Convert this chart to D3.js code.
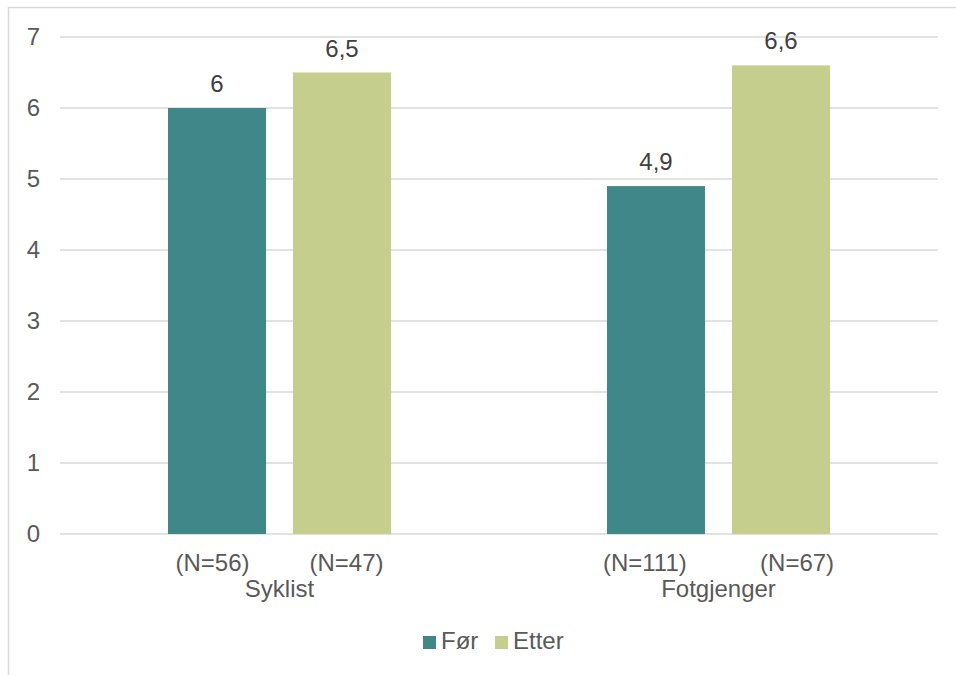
<!DOCTYPE html>
<html>
<head>
<meta charset="utf-8">
<script src="https://cdn.jsdelivr.net/npm/d3@7"></script>
<style>
  html, body { margin: 0; padding: 0; background: #fff; }
  svg text { font-family: "Liberation Sans", Arial, sans-serif; fill: #595959; white-space: pre; }
</style>
</head>
<body>
<svg id="chart" width="956" height="675"></svg>
<script>
// Chart data
const categories = ["Syklist", "Fotgjenger"];
const seriesNames = ["Før", "Etter"];
const seriesColors = ["#3f8789", "#c6ce8e"];
const valuesFor = [6, 4.9];
const valuesEtter = [6.5, 6.6];
const valueLabels = [["6", "4,9"], ["6,5", "6,6"]];
// Sample sizes shown under each group, on one line per category
const sampleLabels = ["(N=56)         (N=47)", "(N=111)           (N=67)"];
const yTicks = [0, 1, 2, 3, 4, 5, 6, 7];

const series = [valuesFor, valuesEtter];

const svg = d3.select("#chart");

// Outer chart frame
svg.append("rect")
  .attr("x", 8.5).attr("y", 7.5)
  .attr("width", 960).attr("height", 680)
  .attr("fill", "none").attr("stroke", "#d9d9d9").attr("stroke-width", 1.5);

const plot = { left: 60, right: 938, top: 37, bottom: 534 };

const x0 = d3.scaleBand().domain(categories).range([plot.left, plot.right]).paddingInner(0).paddingOuter(0);
const x1 = d3.scaleBand().domain(seriesNames).range([0, x0.bandwidth()]).paddingInner(0.216).paddingOuter(0.864);
const y = d3.scaleLinear().domain([0, 7]).range([plot.bottom, plot.top]);

// Gridlines
svg.append("g").selectAll("line").data(yTicks).join("line")
  .attr("x1", plot.left).attr("x2", plot.right)
  .attr("y1", d => y(d)).attr("y2", d => y(d))
  .attr("stroke", "#d9d9d9").attr("stroke-width", 1.5);

// Y axis labels
svg.append("g").selectAll("text").data(yTicks).join("text")
  .attr("x", 40).attr("y", d => y(d) + 8)
  .attr("text-anchor", "end")
  .attr("font-size", 24)
  .text(d => d);

// Bars and value labels
seriesNames.forEach((s, si) => {
  const g = svg.append("g");
  g.selectAll("rect").data(categories).join("rect")
    .attr("x", c => x0(c) + x1(s))
    .attr("y", (c, ci) => y(series[si][ci]))
    .attr("width", x1.bandwidth())
    .attr("height", (c, ci) => y(0) - y(series[si][ci]))
    .attr("fill", seriesColors[si]);

  g.selectAll("text.val").data(categories).join("text")
    .attr("class", "val")
    .attr("x", c => x0(c) + x1(s) + x1.bandwidth() / 2)
    .attr("y", (c, ci) => y(series[si][ci]) - 16)
    .attr("text-anchor", "middle")
    .attr("font-size", 24)
    .style("fill", "#404040")
    .text((c, ci) => valueLabels[si][ci]);
});

// Category axis labels: sample sizes, then category name
svg.append("g").selectAll("text").data(categories).join("text")
  .attr("x", c => x0(c) + x0.bandwidth() / 2)
  .attr("y", 571)
  .attr("text-anchor", "middle")
  .attr("font-size", 24)
  .text((c, i) => sampleLabels[i]);

svg.append("g").selectAll("text").data(categories).join("text")
  .attr("x", c => x0(c) + x0.bandwidth() / 2)
  .attr("y", 597)
  .attr("text-anchor", "middle")
  .attr("font-size", 24)
  .text(c => c);

// Legend
const legend = svg.append("g");
const legendX = [423, 495];
seriesNames.forEach((s, i) => {
  legend.append("rect")
    .attr("x", legendX[i]).attr("y", 636)
    .attr("width", 13).attr("height", 13)
    .attr("fill", seriesColors[i]);
  legend.append("text")
    .attr("x", legendX[i] + 18).attr("y", 649)
    .attr("font-size", 24)
    .text(s);
});
</script>
</body>
</html>
